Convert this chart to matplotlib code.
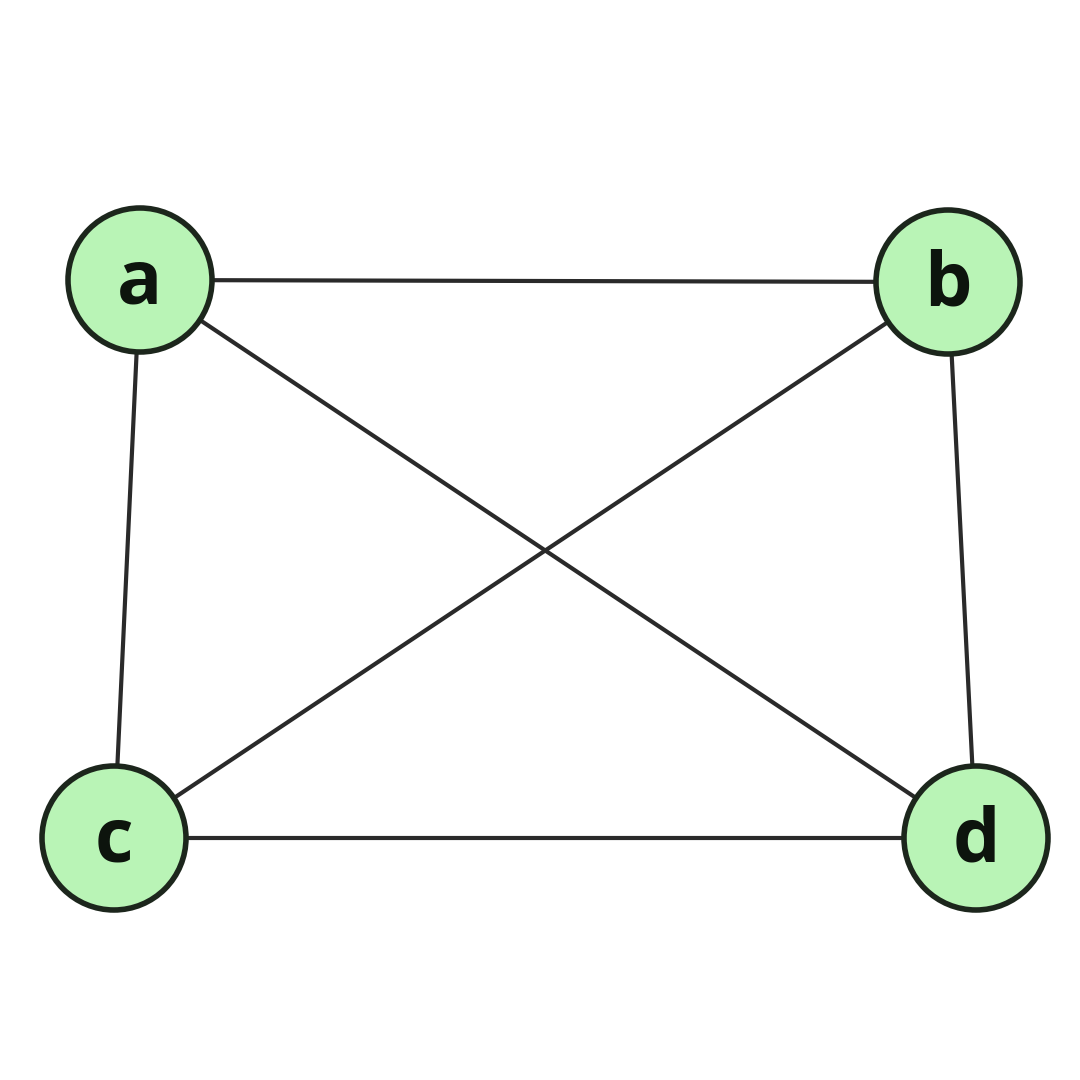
#Libraries
import matplotlib.pyplot as plt
from matplotlib.patches import Circle

#Data
node_names = ['a', 'b', 'c', 'd']
node_x = [140, 948, 114, 976]
node_y = [280, 282, 838, 838]
edges = [('a', 'b'), ('a', 'c'), ('a', 'd'), ('b', 'c'), ('b', 'd'), ('c', 'd')]

#Style
NODE_RADIUS = 72
FILL = '#b9f4b6'
EDGE_COLOR = '#1c261c'

fig = plt.figure(figsize=(10.8, 10.8), dpi=100)
ax = fig.add_axes([0, 0, 1, 1])
ax.set_xlim(0, 1080)
ax.set_ylim(1080, 0)
ax.set_aspect('equal')
ax.axis('off')

pos = {n: (x, y) for n, x, y in zip(node_names, node_x, node_y)}

##Edges
for u, v in edges:
    (x1, y1), (x2, y2) = pos[u], pos[v]
    ax.plot([x1, x2], [y1, y2], color='#2a2a2a', lw=3, zorder=1, solid_capstyle='butt')

##Nodes
for n in node_names:
    x, y = pos[n]
    ax.add_patch(Circle((x, y), NODE_RADIUS, facecolor=FILL, edgecolor=EDGE_COLOR, lw=4, zorder=2))
    ax.text(x, y + 4, n, ha='center', va='center', fontsize=54, fontweight='bold',
            color='#0d140d', family=['Open Sans', 'DejaVu Sans'], zorder=3)

fig.savefig('out.png', dpi=100, facecolor='white')
